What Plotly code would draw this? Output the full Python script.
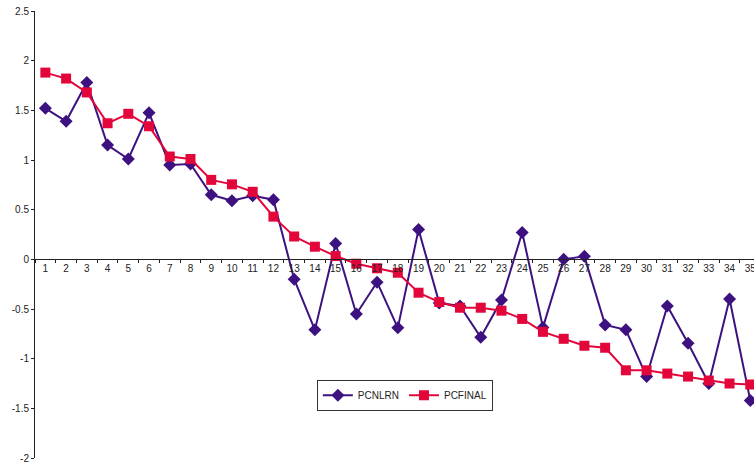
import plotly.graph_objects as go

# Category positions along the x axis
categories = list(range(1, 36))

pcnlrn = [1.52, 1.39, 1.78, 1.15, 1.01, 1.475, 0.95, 0.96, 0.65, 0.59,
          0.64, 0.60, -0.20, -0.71, 0.16, -0.55, -0.23, -0.69, 0.30, -0.44,
          -0.47, -0.785, -0.41, 0.27, -0.685, 0.00, 0.03, -0.66, -0.71, -1.18,
          -0.47, -0.845, -1.25, -0.40, -1.42]

pcfinal = [1.88, 1.82, 1.68, 1.37, 1.465, 1.34, 1.035, 1.01, 0.80, 0.755,
           0.68, 0.43, 0.23, 0.127, 0.033, -0.044, -0.09, -0.135, -0.336, -0.43,
           -0.487, -0.487, -0.517, -0.60, -0.73, -0.80, -0.87, -0.89, -1.117, -1.117,
           -1.15, -1.18, -1.22, -1.25, -1.26]

y_ticks = [-2, -1.5, -1, -0.5, 0, 0.5, 1, 1.5, 2, 2.5]
y_tick_text = ["-2", "-1.5", "-1", "-0.5", "0", "0.5", "1", "1.5", "2", "2.5"]

purple = "#3D1280"
red = "#E2063A"
axis_color = "#222222"
font = dict(family="Liberation Sans, Arial, sans-serif", size=10, color="#222222")

fig = go.Figure()
fig.add_trace(go.Scatter(
    x=categories, y=pcnlrn, name="PCNLRN", mode="lines+markers",
    line=dict(color=purple, width=2),
    marker=dict(symbol="diamond", size=10, color=purple),
))
fig.add_trace(go.Scatter(
    x=categories, y=pcfinal, name="PCFINAL", mode="lines+markers",
    line=dict(color=red, width=2),
    marker=dict(symbol="square", size=10, color=red),
))

fig.update_layout(
    width=754, height=463,
    margin=dict(l=35, r=0, t=11, b=5),
    paper_bgcolor="white", plot_bgcolor="white",
    font=font,
    showlegend=True,
    legend=dict(
        orientation="h",
        x=0.392, y=0.175, xanchor="left", yanchor="top",
        bordercolor="#333333", borderwidth=1, bgcolor="white",
        font=dict(size=10, family="Liberation Sans, Arial, sans-serif", color="#222222"),
        itemwidth=30, tracegroupgap=0,
    ),
    xaxis=dict(
        range=[0.5, 35.18],
        anchor="free", position=2 / 4.5,
        tickmode="array", tickvals=categories,
        ticktext=[str(c) for c in categories],
        ticks="", showgrid=False, zeroline=False,
        showline=True, linecolor=axis_color, linewidth=1,
        minor=dict(tickmode="linear", tick0=0.5, dtick=1, ticks="outside",
                   ticklen=3, tickcolor=axis_color, tickwidth=1, showgrid=False),
        tickfont=font, automargin=False, ticklabeloverflow="allow",
    ),
    yaxis=dict(
        range=[-2, 2.5],
        tickmode="array", tickvals=y_ticks, ticktext=y_tick_text,
        ticks="outside", ticklen=3, tickcolor=axis_color,
        showgrid=False, zeroline=False,
        showline=True, linecolor=axis_color, linewidth=1,
        tickfont=font, automargin=False, ticklabeloverflow="allow",
    ),
)

fig.write_html("out.html")
